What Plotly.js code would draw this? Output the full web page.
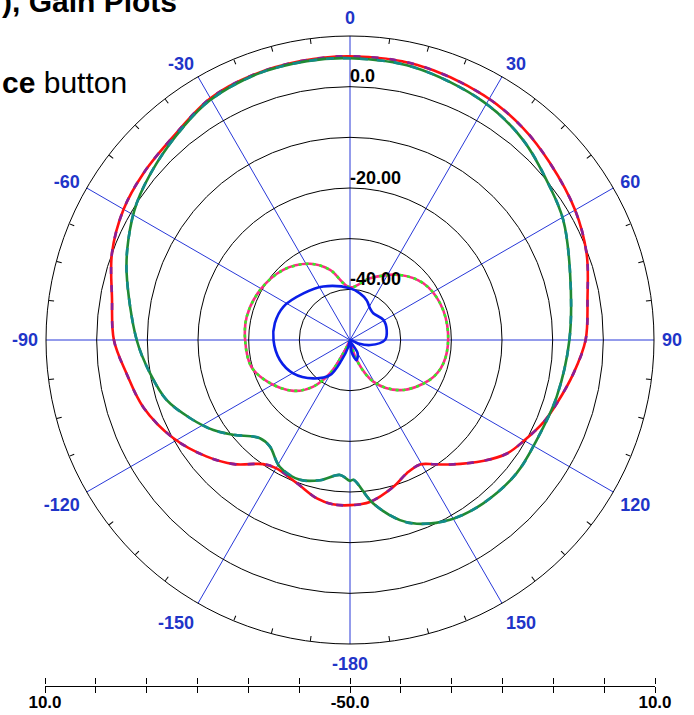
<!DOCTYPE html>
<html>
<head>
<meta charset="utf-8">
<script src="https://cdn.plot.ly/plotly-3.0.1.min.js"></script>
<style>html,body{margin:0;padding:0;background:#fff;}#chart{width:694px;height:715px;}</style>
</head>
<body>
<div id="chart"></div>
<script>
// ---- Data (gain in dB vs angle in degrees) ----
const thetaA = [-180,-174,-168,-160,-150,-145,-137,-129,-119,-108,-98.5,-90,-80,-70,-60,-51,-41,-30,-20,-10,0,13.6,28.6,39.3,48.5,60,70,80,90,98.5,107,113,120,126,132,141,145.7,150.6,157,163.5,173,180];
const gainA  = [-17.4,-17.4,-18.1,-19.8,-20.8,-20.1,-16.5,-13.5,-10.1,-7.1,-5.4,-3.4,-2.3,0.0,1.6,2.4,3.2,5.1,5.7,5.9,6.0,5.9,5.05,4.0,2.7,1.3,-0.3,-2.4,-3.5,-5.4,-7.3,-8.5,-10.3,-11.8,-14.4,-18.4,-20.3,-21.8,-21.4,-19.8,-17.8,-17.4];

const thetaB = [-180,-175.8,-167.9,-160.3,-151,-143,-137.5,-129,-123.4,-116.1,-108.1,-99.5,-90,-73.4,-65.7,-57.4,-47.6,-38,-30.3,-19.3,-8.8,0,13,29.2,40.9,52.5,60.6,73.1,90,105.3,118.2,128.7,140.8,150.9,160,164.5,171.9,178.6,180];
const gainB  = [-22.2,-23.3,-21.7,-20.7,-21.4,-23.7,-23.7,-20.3,-17.7,-14.9,-11.9,-10.0,-7.9,-4.0,-2.0,0.0,1.7,3.4,4.8,5.6,5.7,5.6,5.3,3.9,2.2,-0.3,-1.7,-4.6,-6.7,-7.7,-8.2,-7.9,-8.4,-9.4,-11.4,-13.1,-17.4,-22.4,-22.2];

const thetaC = [-180,-160,-153.4,-149,-141.8,-132,-117,-105,-90,-77.3,-61,-43.6,-27.8,-15.9,0,18,37.6,52.3,67.8,86,104,116.6,135,150.8,161.5,170,180];
const gainC  = [-50,-50,-47.1,-42.3,-38.3,-35.0,-31.8,-29.8,-29.3,-29.1,-29.7,-30.9,-33.0,-35.6,-39.6,-37.2,-33.8,-31.7,-30.8,-30.6,-31.0,-32.4,-36.0,-40.6,-45.8,-50,-50];

const thetaD = [-180,-166,-157.5,-150.3,-136.2,-120.4,-105.9,-90,-77.4,-63.5,-45,-26.6,0,12,22.7,32.3,41,59,75,90,104,112,125,150,162,172,180];
const gainD  = [-50,-48.6,-45.7,-42.0,-39.5,-37.0,-35.6,-34.9,-34.8,-35.3,-37.0,-38.2,-39.8,-40.6,-41.5,-42.6,-43.0,-42.3,-42.5,-43.1,-45.9,-48.2,-50,-47.0,-45.8,-47.5,-50];

// ---- Axis labels ----
const angleTickVals = [0,30,60,90,120,150,180,210,240,270,300,330];
const angleTickText = ["0","30","60","90","120","150","-180","-150","-120","-90","-60","-30"];
const radialGridVals = [-40,-30,-20,-10,0];
const radialLabelVals = [-40,-20,0];
const radialLabelText = ["-40.00","-20.00","0.0"];
const scaleTickVals = [-60,-50,-40,-30,-20,-10,0,10,20,30,40,50,60];
const scaleTickText = ["10.0","","","","","","-50.0","","","","","","10.0"];

const minorTicks = [];
for (let a = 0; a < 360; a += 7.5) { if (a % 30 !== 0) minorTicks.push(a); }

const FONT = "Liberation Sans, Arial, sans-serif";

function curve(r, theta, color, dash) {
  const line = {color:color, width:2.6, shape:'spline', smoothing:1};
  if (dash) line.dash = dash;
  return {type:'scatterpolar', r:r, theta:theta, mode:'lines', line:line, hoverinfo:'skip'};
}

const traces = [
  curve(gainA, thetaA, '#ff1010'),
  curve(gainA, thetaA, '#8a1e96', '7px,11px'),
  curve(gainB, thetaB, '#1f8a35'),
  curve(gainB, thetaB, '#128a8a', '8px,9px'),
  curve(gainC, thetaC, '#ff2a86'),
  curve(gainC, thetaC, '#33ee22', '3px,4px'),
  curve(gainD, thetaD, '#0a1ee8'),
  {type:'scatterpolar', r:radialLabelVals, theta:radialLabelVals.map(()=>0), mode:'text',
   text:radialLabelText, textposition:'top right', textfont:{family:FONT, size:18, color:'#000', weight:'bold'}, hoverinfo:'skip'},
  {type:'scatterpolar', subplot:'polar2', r:[], theta:[], mode:'lines', hoverinfo:'skip'},
  {type:'scatter', x:[], y:[], xaxis:'x', yaxis:'y', mode:'none', hoverinfo:'skip'},
  {type:'scatter', x:[], y:[], xaxis:'x2', yaxis:'y', mode:'none', hoverinfo:'skip'}
];

const polarDomain = {x:[46/694, 654/694], y:[71/715, 679/715]};

const layout = {
  width:694, height:715,
  margin:{l:0, r:0, t:0, b:0, pad:0},
  paper_bgcolor:'#ffffff',
  showlegend:false,
  font:{family:FONT},
  polar:{
    domain:polarDomain,
    bgcolor:'rgba(0,0,0,0)',
    radialaxis:{range:[-50,10], tickvals:radialGridVals, showticklabels:false, ticks:'',
      showline:false, gridcolor:'#000000', gridwidth:1, angle:90},
    angularaxis:{rotation:90, direction:'clockwise', tickvals:angleTickVals, ticktext:angleTickText,
      ticks:'outside', ticklen:4, tickcolor:'rgba(0,0,0,0)',
      gridcolor:'#2838d8', gridwidth:1, showline:true, linecolor:'#000000', linewidth:1,
      tickfont:{family:FONT, size:18, color:'#1f35c8', weight:'bold'}}
  },
  polar2:{
    domain:polarDomain,
    bgcolor:'rgba(0,0,0,0)',
    radialaxis:{visible:false, range:[-50,10]},
    angularaxis:{rotation:90, direction:'clockwise', tickvals:minorTicks, showticklabels:false,
      ticks:'inside', ticklen:5, tickcolor:'#000', tickwidth:1, showgrid:false, showline:false}
  },
  xaxis:{domain:[45/694, 655/694], range:[-60,60], tickvals:scaleTickVals, ticktext:scaleTickText,
    ticks:'outside', ticklen:6, tickcolor:'#000', tickwidth:1, showline:true, linecolor:'#000', linewidth:1,
    showgrid:false, zeroline:false, anchor:'y', side:'bottom', fixedrange:true, ticklabelstandoff:-5,
    tickfont:{family:FONT, size:17, color:'#000', weight:'bold'}},
  xaxis2:{domain:[45/694, 655/694], range:[-60,60], tickvals:scaleTickVals, showticklabels:false,
    ticks:'outside', ticklen:6, tickcolor:'#000', tickwidth:1, showline:false,
    showgrid:false, zeroline:false, anchor:'y', side:'top', overlaying:'x', fixedrange:true},
  yaxis:{domain:[0.0412, 0.0420], range:[0,1], visible:false, fixedrange:true},
  annotations:[
    {xref:'paper', yref:'paper', x:0, y:0.998, xanchor:'left', yanchor:'middle', showarrow:false,
     text:'<b>), Gain Plots</b>', font:{family:FONT, size:30, color:'#000'}},
    {xref:'paper', yref:'paper', x:0, y:0.885, xanchor:'left', yanchor:'middle', showarrow:false,
     text:'<b>ce</b> button', font:{family:FONT, size:30, color:'#000'}}
  ]
};

Plotly.newPlot('chart', traces, layout, {staticPlot:true, displayModeBar:false});
</script>
</body>
</html>
